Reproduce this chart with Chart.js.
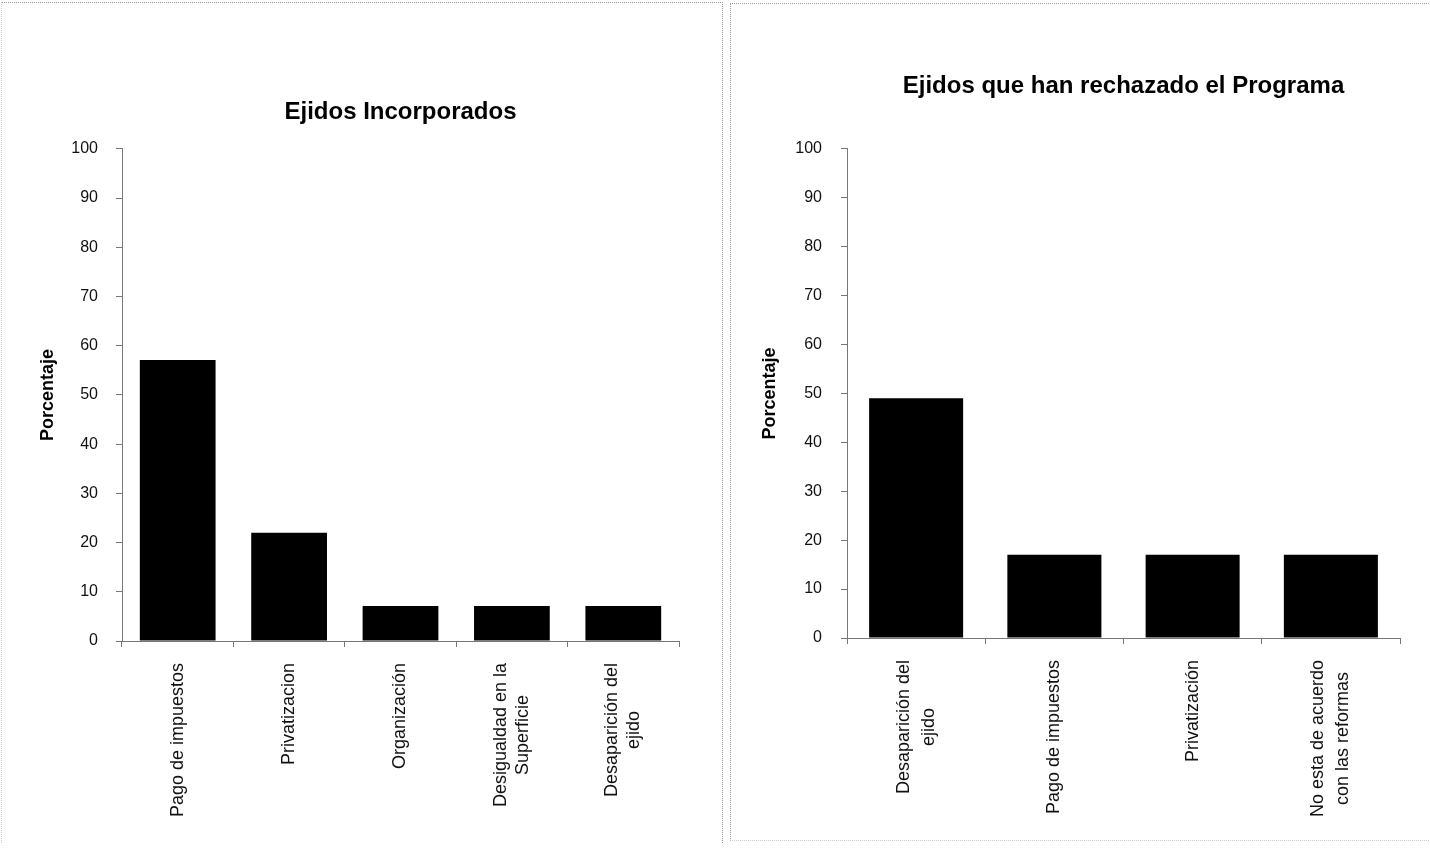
<!DOCTYPE html>
<html>
<head>
<meta charset="utf-8">
<script src="https://cdn.jsdelivr.net/npm/chart.js@4.4.0/dist/chart.umd.min.js"></script>
<style>
  body { margin: 0; background: #fff; }
  #wrap { position: relative; width: 1430px; height: 856px; overflow: hidden; }
  canvas { position: absolute; top: 0; }
  #c1 { left: 0; }
  #c2 { left: 728px; }
  .frame { position: absolute; pointer-events: none; }
</style>
</head>
<body>
<div id="wrap">
  <div class="frame" style="left:1px;top:2px;width:720px;height:840px;border-top:1px dotted #999;border-right:1px dotted #999;border-left:1px dotted #ccc"></div>
  <div class="frame" style="left:730px;top:3px;width:700px;height:836px;border-top:1px dotted #999;border-left:1px dotted #999;border-bottom:1px dotted #ccc"></div>
  <canvas id="c1" width="722" height="856"></canvas>
  <canvas id="c2" width="702" height="856"></canvas>
</div>
<script>
// data (percent)
const leftTitle = 'Ejidos Incorporados';
const leftLabels = [
  ['Pago de impuestos'],
  ['Privatizacion'],
  ['Organización'],
  ['Desigualdad en la', 'Superficie'],
  ['Desaparición del', 'ejido']
];
const leftValues = [57.1, 22, 7.1, 7.1, 7.1];

const rightTitle = 'Ejidos que han rechazado el Programa';
const rightLabels = [
  ['Desaparición del', 'ejido'],
  ['Pago de impuestos'],
  ['Privatización'],
  ['No esta de acuerdo', 'con las reformas']
];
const rightValues = [49, 17, 17, 17];

const yAxisTitle = 'Porcentaje';
const yMin = 0, yMax = 100, yStep = 10;

Chart.defaults.font.family = 'Arial, "Liberation Sans", sans-serif';
Chart.defaults.color = '#111';

// category labels drawn rotated, lines centred on each other
const rotatedLabels = {
  id: 'rotatedLabels',
  afterDraw(chart, args, opts) {
    const xs = chart.scales.x, ctx = chart.ctx;
    ctx.save();
    ctx.font = opts.font;
    ctx.fillStyle = opts.color;
    ctx.textBaseline = 'middle';
    ctx.textAlign = 'center';
    chart.data.labels.forEach((lines, i) => {
      const x = xs.getPixelForTick(i);
      const maxW = Math.max(...lines.map(l => ctx.measureText(l).width));
      ctx.save();
      ctx.translate(x, xs.top + opts.gap);
      ctx.rotate(-Math.PI / 2);
      lines.forEach((l, j) => {
        ctx.fillText(l, -maxW / 2, (j - (lines.length - 1) / 2) * opts.lineHeight);
      });
      ctx.restore();
    });
    ctx.restore();
  }
};

function makeChart(id, title, labels, values, c) {
  return new Chart(document.getElementById(id), {
    type: 'bar',
    data: {
      labels: labels,
      datasets: [{
        data: values,
        backgroundColor: '#000',
        borderWidth: 0,
        barPercentage: 0.68,
        categoryPercentage: 1.0
      }]
    },
    plugins: [rotatedLabels],
    options: {
      responsive: false,
      animation: false,
      devicePixelRatio: 1,
      layout: { padding: { left: 0, right: c.padRight, top: 0, bottom: 0 } },
      plugins: {
        legend: { display: false },
        tooltip: { enabled: false },
        title: {
          display: true,
          text: title,
          fullSize: false,
          color: '#000',
          font: { size: 24, weight: 'bold' },
          padding: { top: c.titleTop, bottom: c.titleBottom }
        },
        rotatedLabels: { font: '18px Arial, "Liberation Sans", sans-serif', color: '#111', gap: 22, lineHeight: c.lineH }
      },
      scales: {
        x: {
          afterFit: s => { s.height = c.xHeight; },
          ticks: { display: false },
          grid: { drawOnChartArea: false, drawTicks: true, tickLength: 6, color: '#777' },
          border: { display: true, color: '#777', dash: [2, 2] }
        },
        y: {
          min: yMin,
          max: yMax,
          afterFit: s => { s.width = c.yWidth; },
          ticks: { stepSize: yStep, padding: c.tickPad, color: '#111', font: { size: 16 } },
          grid: { drawOnChartArea: false, drawTicks: true, tickLength: 6, color: '#777' },
          border: { display: true, color: '#777', dash: [2, 2] },
          title: {
            display: true,
            text: yAxisTitle,
            color: '#000',
            font: { size: 18, weight: 'bold' },
            padding: { top: c.yTitlePad, bottom: 0 }
          }
        }
      }
    }
  });
}

makeChart('c1', leftTitle, leftLabels, leftValues, {
  padRight: 43, yWidth: 122, tickPad: 18, yTitlePad: 37,
  titleTop: 98, titleBottom: 22, xHeight: 215, lineH: 22
});
makeChart('c2', rightTitle, rightLabels, rightValues, {
  padRight: 30, yWidth: 119, tickPad: 19, yTitlePad: 31,
  titleTop: 72, titleBottom: 48, xHeight: 218, lineH: 25
});
</script>
</body>
</html>
